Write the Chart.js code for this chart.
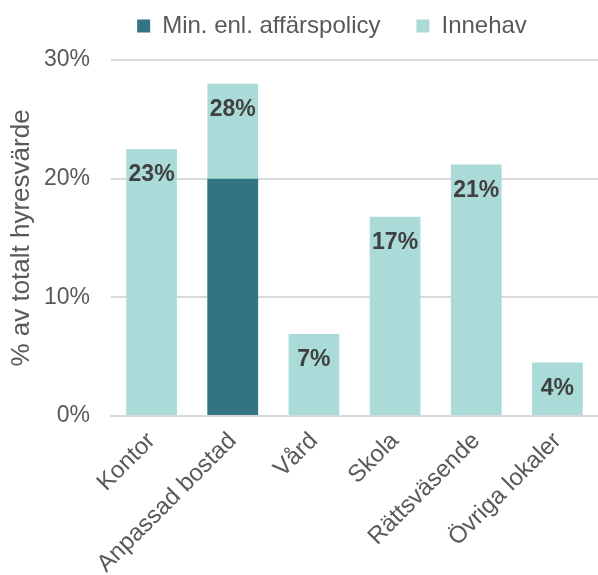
<!DOCTYPE html>
<html>
<head>
<meta charset="utf-8">
<script src="https://cdn.jsdelivr.net/npm/chart.js@4"></script>
<style>
  html, body { margin: 0; padding: 0; background: #fff; }
  #wrap { width: 598px; height: 575px; }
</style>
</head>
<body>
<div id="wrap"><canvas id="hyresChart" width="598" height="575"></canvas></div>
<script>
// Data
const kategorier = ['Kontor', 'Anpassad bostad', 'Vård', 'Skola', 'Rättsväsende', 'Övriga lokaler'];
const minAffarspolicy = [null, 20, null, null, null, null];
const innehav = [22.5, 28, 6.9, 16.8, 21.2, 4.5];
const etiketter = ['23%', '28%', '7%', '17%', '21%', '4%'];
const yTicks = [0, 10, 20, 30];

Chart.defaults.font.family = '"Liberation Sans", Arial, sans-serif';
Chart.defaults.color = '#595959';

// Etiketter inne i staplarna
const stapelEtiketter = {
    id: 'stapelEtiketter',
    afterDatasetsDraw(chart) {
        const ctx = chart.ctx;
        const meta = chart.getDatasetMeta(1);
        ctx.save();
        ctx.font = 'bold 23px "Liberation Sans", Arial, sans-serif';
        ctx.fillStyle = '#404040';
        ctx.textAlign = 'center';
        ctx.textBaseline = 'middle';
        meta.data.forEach((bar, i) => {
            ctx.fillText(etiketter[i], bar.x, bar.y + 26);
        });
        ctx.restore();
    }
};

// Flytta förklaringen lite åt höger och uppåt
const flyttaLegend = {
    id: 'flyttaLegend',
    afterLayout(chart) {
        chart.legend.left += 33;
        chart.legend.right += 33;
        chart.legend.top -= 12;
        chart.legend.bottom -= 12;
    }
};

new Chart(document.getElementById('hyresChart').getContext('2d'), {
    type: 'bar',
    data: {
        labels: kategorier,
        datasets: [{
            label: 'Min. enl. affärspolicy',
            data: minAffarspolicy,
            backgroundColor: '#337482',
            grouped: false,
            barPercentage: 0.625,
            categoryPercentage: 1
        }, {
            label: 'Innehav',
            data: innehav,
            backgroundColor: '#abdbd9',
            grouped: false,
            barPercentage: 0.625,
            categoryPercentage: 1
        }]
    },
    options: {
        responsive: false,
        animation: false,
        layout: { padding: { top: -10, right: 0, left: 0, bottom: 0 } },
        plugins: {
            tooltip: { enabled: false },
            legend: {
                position: 'top',
                labels: {
                    boxWidth: 13,
                    boxHeight: 13,
                    padding: 36,
                    color: '#595959',
                    font: { size: 24 }
                }
            }
        },
        scales: {
            x: {
                grid: { display: false },
                border: { color: '#d9d9d9', width: 2 },
                ticks: {
                    maxRotation: 45,
                    minRotation: 45,
                    autoSkip: false,
                    color: '#595959',
                    font: { size: 24 }
                },
                afterFit(scale) { scale.height = 159; }
            },
            y: {
                min: 0,
                max: 30,
                afterBuildTicks(scale) { scale.ticks = yTicks.map(v => ({ value: v })); },
                grid: { color: '#d9d9d9', lineWidth: 2, drawTicks: false },
                border: { display: false },
                ticks: {
                    padding: 21,
                    color: '#595959',
                    font: { size: 23 },
                    callback: v => v + '%'
                },
                title: {
                    display: true,
                    text: '% av totalt hyresvärde',
                    color: '#595959',
                    font: { size: 26 },
                    padding: { top: 6, bottom: 0 }
                },
                afterFit(scale) { scale.width = 111; }
            }
        }
    },
    plugins: [stapelEtiketter, flyttaLegend]
});
</script>
</body>
</html>
